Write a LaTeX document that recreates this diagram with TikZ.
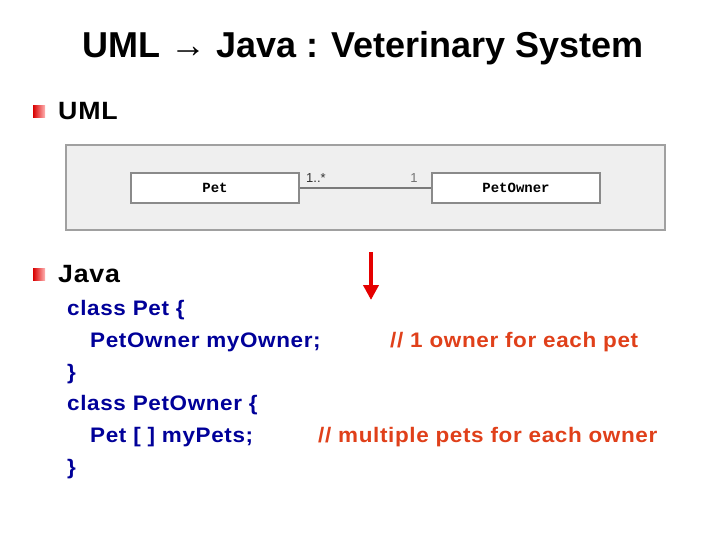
\documentclass[tikz,border=0pt]{standalone}
\usepackage{fontspec}
\setmainfont{Liberation Sans}
\newfontfamily\spacedfnt[LetterSpace=3,FakeStretch=1.07]{Liberation Sans}
\newfontfamily\monofnt{Liberation Mono}
\usetikzlibrary{arrows.meta}
\definecolor{codeblue}{HTML}{000099}
\definecolor{cmtred}{HTML}{E0401A}
\definecolor{panelgray}{HTML}{EFEFEF}
\definecolor{panelline}{HTML}{A0A0A0}
\definecolor{boxline}{HTML}{8A8A8A}
\definecolor{linegray}{HTML}{7A7A7A}
\tikzset{
  bulletsq/.style={minimum width=12pt,minimum height=12pt,inner sep=0pt,left color=red!85!black,right color=red!30,draw=none},
  headtxt/.style={anchor=base west,inner sep=0pt,font=\spacedfnt\bfseries\fontsize{25}{30}\selectfont},
  codetxt/.style={anchor=base west,inner sep=0pt,text=codeblue,font=\spacedfnt\bfseries\fontsize{21}{24}\selectfont},
  cmttxt/.style={anchor=base west,inner sep=0pt,text=cmtred,font=\spacedfnt\bfseries\fontsize{21}{24}\selectfont},
  classbox/.style={draw=boxline,line width=1.6pt,fill=white,minimum width=168pt,minimum height=30pt,inner sep=0pt,font=\monofnt\bfseries\fontsize{14}{16}\selectfont},
  multtxt/.style={inner sep=0pt,font=\fontsize{13}{15}\selectfont}
}
\begin{document}
\begin{tikzpicture}[x=1pt,y=-1pt]
\useasboundingbox[fill=white] (0,0) rectangle (720,540);
% title
\node[anchor=base,inner sep=0pt,font=\bfseries\fontsize{36}{40}\selectfont] (title) at (363,58) {UML → Java : Veterinary System};
% UML heading
\node[bulletsq] (b1) at (39,112) {};
\node[headtxt] (h1) at (58,120) {UML};
% UML panel
\node[draw=panelline,line width=1.2pt,fill=panelgray,minimum width=599pt,minimum height=85pt,inner sep=0pt] (panel) at (365.5,187.5) {};
\node[classbox] (pet) at (215,188) {Pet};
\node[classbox] (owner) at (516,188) {PetOwner};
\draw[linegray,line width=1.4pt] (pet.east) -- (owner.west);
\node[multtxt,anchor=west,text=black!80] (m1) at (306,178) {1..*};
\node[multtxt,text=black!55] (m2) at (414,178) {1};
% Java heading
\node[bulletsq] (b2) at (39,274) {};
\node[headtxt] (h2) at (58,282) {Java};
% red arrow
\coordinate (arrs) at (371,252);
\coordinate (arre) at (371,300);
\draw[red!90!black,line width=4pt,-{Triangle[length=15pt,width=15pt]}] (arrs) -- (arre);
% code
\node[codetxt] (c1) at (67,315) {class Pet \{};
\node[codetxt] (c2) at (90,347) {PetOwner myOwner;};
\node[codetxt] (c3) at (67,379) {\}};
\node[codetxt] (c4) at (67,410) {class PetOwner \{};
\node[codetxt] (c5) at (90,442) {Pet [ ] myPets;};
\node[codetxt] (c6) at (67,474) {\}};
\node[cmttxt] (k1) at (390,347) {// 1 owner for each pet};
\node[cmttxt] (k2) at (318,442) {// multiple pets for each owner};
\end{tikzpicture}
\end{document}
